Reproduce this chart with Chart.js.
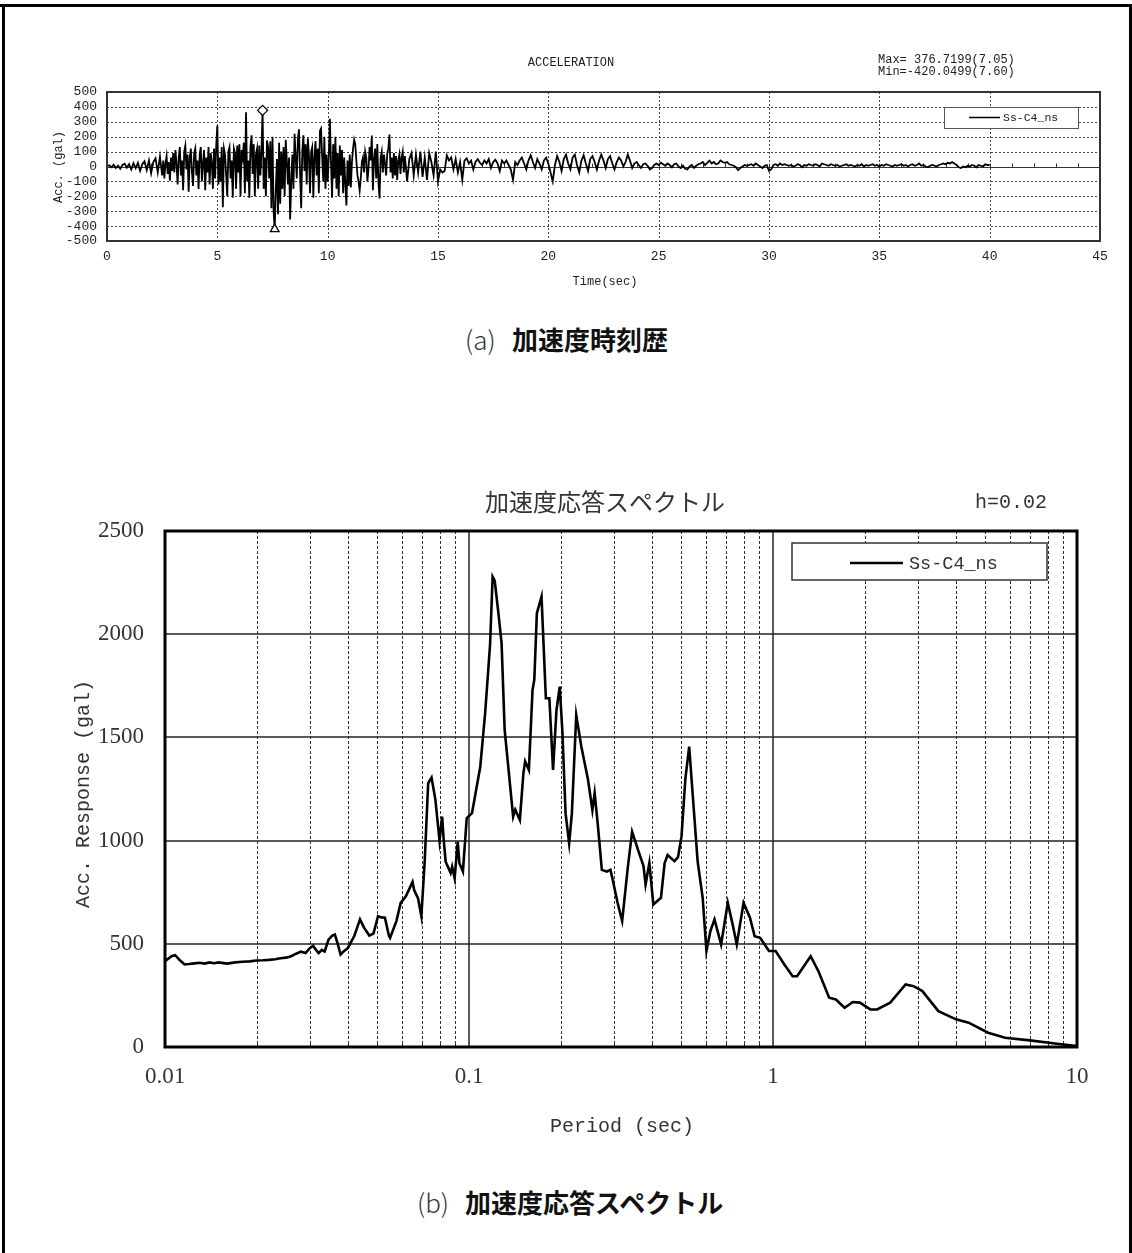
<!DOCTYPE html>
<html>
<head>
<meta charset="utf-8">
<script src="https://cdn.jsdelivr.net/npm/chart.js@4/dist/chart.umd.min.js"></script>
<style>
html,body{margin:0;padding:0;background:#fff;}
#wrap{position:relative;width:1132px;height:1253px;overflow:hidden;background:#fff;}
canvas{position:absolute;left:0;}
#c1{top:0;}
#c2{top:440px;}
.frame{position:absolute;background:#000;}
.cap{position:absolute;font-family:"Noto Sans CJK JP",sans-serif;font-size:26px;line-height:26px;color:#111;white-space:nowrap;}
.cap .p{font-weight:300;color:#333;}
.cap .t{font-weight:700;}
</style>
</head>
<body>
<div id="wrap">
  <div class="frame" style="left:0;top:4px;width:1132px;height:3px;"></div>
  <div class="frame" style="left:2px;top:4px;width:3px;height:1249px;"></div>
  <div class="frame" style="left:1129px;top:4px;width:3px;height:1249px;"></div>
  <canvas id="c1" width="1132" height="300"></canvas>
  <canvas id="c2" width="1132" height="720"></canvas>
  <div class="cap" style="left:465px;top:326px;"><span class="p">(a)</span></div>
  <div class="cap" style="left:512px;top:326px;"><span class="t">加速度時刻歴</span></div>
  <div class="cap" style="left:417px;top:1189px;"><span class="p">(b)</span></div>
  <div class="cap" style="left:465px;top:1189px;"><span class="t">加速度応答スペクトル</span></div>
</div>
<script>
// ---------- Time history (acceleration, gal) ----------
const seriesName = 'Ss-C4_ns';
const accTitle = 'ACCELERATION';
const accXTitle = 'Time(sec)';
const accYTitle = 'Acc. (gal)';
const accXTicks = [0, 5, 10, 15, 20, 25, 30, 35, 40, 45];
const accYTicks = [-500, -400, -300, -200, -100, 0, 100, 200, 300, 400, 500];
const accPeakTimes = [7.05, 7.60];
const accPeakValues = [376.7199, -420.0499];

// segment starts / steps (sec)
const accSegStarts = [0, 2.5, 13.5];
const accSegSteps = [0.1, 0.05, 0.1];

// 0.0 - 2.4 s
const accSegA = [0, 8, -5, 12, -10, 6, -15, 10, 18, -8, 15, -20, 22, -12, 25, -30, 15, 35, -25, 40, -45, 30, 55, -40, 65];
// 2.5 - 13.45 s
const accSegB = [
  -60, 40, -80, 20, 70, -50, 30, -95, 60, -30,
  90, -40, 110, 20, -120, 60, 130, -60, 40, -160, 100, 140, -20, 80, -170, 60, 120, -40, -130, 90,
  120, -60, 40, -150, 80, 130, -100, 20, 110, -160, 60, -40, 130, -120, 90, 30, -150, 120, -80, 140,
  275, -120, 60, -100, 130, -273, 120, 80, -60, -200, 100, 130, -80, 40, -210, 120, 90, -150, 140, -40,
  150, -200, 110, 60, 160, -180, 364, -100, 40, -210, 130, 210, -50, 150, -200, 80, 120, -150, 140, -60,
  100, 376.7199, -150, 60, -200, 175, 130, -80, 170, -280, 200, -300, -420.0499, -150, 50, -320, 160, -250, 100, -150,
  130, -200, 180, 40, -120, 60, -355, -100, 80, -150, 220, 60, -80, 180, 250, -50, -280, 100, 210, -30,
  150, -120, 190, 80, -180, 100, 130, -210, 60, 170, -60, 120, -180, 240, 255, 60, -100, 200, -150, 80,
  -100, 60, 320, 30, -210, 150, -80, 200, -150, 90, -200, 140, -60, 110, -180, 60, -120, -262, 40, -130,
  80, -140, 30, 120, 180, 150, 40, -60, -100, -160, -80, 30, 60, -40, 100, 60, -100, -20, 130, 40,
  208, -160, 50, 120, -80, 150, -100, -215, 60, 100, -40, 80, 20, -60, 90, 120, 215, -40, 60, -80,
  90, -60, 70, -90, 40, 80, -50, 60, 100, -40
];
// 13.5 - 40.0 s
const accSegC = [
  70, -100, 50, 90, -60,
  80, -40, 100, -70, 60, -90, 90, 30, -60, 100,
  -100, -20, -40, -30, 75, 40, 60, -20, 50, -40,
  30, -90, 40, 55, 20, 40, -20, 30, 50, 25,
  10, 40, 20, 50, -10, 30, 45, 20, -30, 40,
  20, 40, 10, -20, -90, 30, 10, 40, 60, 20,
  -20, 40, 75, 30, -10, 50, 20, -20, 40, 60,
  20, -40, -100, 10, 70, 30, -30, 50, 80, 20,
  -20, 60, 80, 10, -40, 40, 75, 20, -30, 50,
  70, 30, -20, 40, 80, 40, -10, 50, 70, 20,
  -20, 30, 60, 40, 0, 30, 80, 40, -10, 20,
  30, 10, -10, 15, 20, 5, -20, -10, 10, 20,
  10, 25, 15, 5, 20, 10, -5, 15, 20, 0,
  -10, 5, -15, -20, 0, 10, -10, 5, 15, 20,
  30, 10, 25, 40, 20, 30, 15, 20, 40, 30,
  25, 30, 15, 10, 5, -5, -25, -10, 0, 10,
  5, 10, 15, 5, 20, 10, 0, -10, 5, 10,
  -30, -20, 10, 15, 5, 20, 10, 15, 10, 5,
  10, 0, 5, 15, 10, -5, 10, 5, 15, 10,
  5, 15, 10, 0, 20, 15, 10, 5, 15, 10,
  5, 10, 0, 5, 10, 15, 5, 10, 5, 0,
  10, 5, 15, 0, 10, 5, 10, 15, 5, 10,
  0, 10, 5, 15, 10, 5, 0, 10, 5, 10,
  15, 5, 10, 0, 10, 15, 5, 10, 20, 5,
  10, 0, -5, 5, 10, 5, 0, 10, 15, 20,
  15, 25, 20, 30, 20, 10, -5, -10, 0, -5,
  5, 0, 10, 5, -5, 10, 5, 0, 15, 10,
  10
];

// ---------- Response spectrum ----------
const specTitle = '加速度応答スペクトル';
const specDamping = 'h=0.02';
const specXTitle = 'Period (sec)';
const specYTitle = 'Acc. Response (gal)';
const specXTicks = [0.01, 0.1, 1, 10];
const specXTickLabels = ['0.01', '0.1', '1', '10'];
const specYTicks = [0, 500, 1000, 1500, 2000, 2500];
const specPeriod = [
  0.010, 0.0105, 0.0108, 0.0112, 0.0116, 0.012, 0.0125, 0.013, 0.0135, 0.014, 0.0145, 0.015, 0.016, 0.017, 0.018, 0.019,
  0.020, 0.021, 0.022, 0.023, 0.024, 0.025, 0.026, 0.027, 0.028, 0.029, 0.030, 0.0307, 0.0315, 0.032, 0.0328, 0.0335,
  0.0345, 0.0355, 0.0362, 0.037, 0.0378, 0.0385, 0.040, 0.042, 0.0438, 0.0452, 0.047, 0.0485, 0.0502, 0.0515, 0.0529,
  0.0545, 0.055, 0.0577, 0.0596, 0.062, 0.0652, 0.066, 0.068, 0.0697, 0.0715, 0.0734, 0.0753, 0.0775, 0.080, 0.0816,
  0.0825, 0.0838, 0.087, 0.088, 0.0897, 0.0918, 0.093, 0.0955, 0.0983, 0.1023, 0.1089, 0.113, 0.1173, 0.1196, 0.1215,
  0.125, 0.128, 0.131, 0.1397, 0.142, 0.147, 0.151, 0.153, 0.1574, 0.1618, 0.164, 0.1672, 0.1732, 0.179, 0.1838, 0.189,
  0.194, 0.1988, 0.203, 0.2078, 0.2135, 0.218, 0.2253, 0.2342, 0.246, 0.2546, 0.259, 0.265, 0.2735, 0.284, 0.292, 0.297,
  0.308, 0.319, 0.333, 0.344, 0.36, 0.375, 0.381, 0.392, 0.404, 0.418, 0.428, 0.44, 0.45, 0.474, 0.487, 0.50, 0.515,
  0.53, 0.55, 0.565, 0.587, 0.604, 0.622, 0.642, 0.675, 0.71, 0.735, 0.76, 0.80, 0.84, 0.87, 0.907, 0.93, 0.97, 1.02,
  1.09, 1.16, 1.2, 1.33, 1.41, 1.53, 1.61, 1.72, 1.83, 1.93, 2.09, 2.2, 2.43, 2.73, 2.9, 3.1, 3.5, 4.0, 4.4, 5.1, 5.8,
  7.0, 8.6, 10
];
const specAcc = [
  416, 440, 445, 420, 400, 402, 405, 408, 404, 410, 406, 410, 404, 410, 413, 415,
  419, 420, 422, 425, 430, 433, 440, 452, 462, 455, 480, 490, 468, 455, 470, 462,
  520, 540, 545, 500, 448, 460, 480, 540, 618, 577, 540, 550, 634, 628, 626,
  540, 529, 610, 698, 730, 800, 760, 720, 634, 900, 1278, 1305, 1200, 1000, 1116,
  1010, 898, 843, 874, 818, 995, 890, 850, 1109, 1133, 1358, 1617, 1950, 2279, 2260,
  2100, 1956, 1536, 1116, 1150, 1100, 1327, 1384, 1342, 1730, 1780, 2102, 2182, 1690, 1690, 1342,
  1633, 1746, 1520, 1133, 987, 1133, 1608, 1455, 1300, 1148, 1230, 1085, 858, 850, 858, 810,
  700, 610, 870, 1043, 954, 877, 787, 892, 690, 710, 723, 890, 930, 900, 920, 1019, 1300,
  1455, 1133, 900, 723, 465, 560, 618, 497, 698, 600, 497, 698, 626, 537, 529, 505, 465, 465,
  400, 343, 343, 440, 368, 239, 230, 190, 218, 215, 182, 182, 215, 303, 295, 271, 174, 134, 118, 69, 45,
  32, 16, 5
];

// ---------- build datasets from the arrays ----------
const accPoints = [];
[accSegA, accSegB, accSegC].forEach((seg, k) => {
  seg.forEach((v, i) => {
    accPoints.push({ x: Math.round((accSegStarts[k] + i * accSegSteps[k]) * 1000) / 1000, y: v });
  });
});
const accPeaks = accPeakTimes.map((t, i) => ({ x: t, y: accPeakValues[i] }));
const specPoints = specPeriod.map((p, i) => ({ x: p, y: specAcc[i] }));

function hLine(ctx, x1, x2, y) { ctx.beginPath(); ctx.moveTo(x1, y); ctx.lineTo(x2, y); ctx.stroke(); }
function vLine(ctx, x, y1, y2) { ctx.beginPath(); ctx.moveTo(x, y1); ctx.lineTo(x, y2); ctx.stroke(); }

// ---------- top chart decorations ----------
const accDeco = {
  id: 'accDeco',
  beforeDatasetsDraw(chart) {
    const { ctx, chartArea: a, scales: { x, y } } = chart;
    ctx.save();
    ctx.strokeStyle = '#444';
    ctx.lineWidth = 1;
    ctx.setLineDash([2, 2]);
    accXTicks.forEach(v => {
      if (v > accXTicks[0] && v < accXTicks[accXTicks.length - 1]) {
        const px = Math.round(x.getPixelForValue(v)) + 0.5;
        vLine(ctx, px, a.top, a.bottom);
      }
    });
    accYTicks.forEach(v => {
      if (v !== 0 && v > accYTicks[0] && v < accYTicks[accYTicks.length - 1]) {
        const py = Math.round(y.getPixelForValue(v)) + 0.5;
        hLine(ctx, a.left, a.right, py);
      }
    });
    ctx.setLineDash([]);
    ctx.strokeStyle = '#333';
    const zy = Math.round(y.getPixelForValue(0)) + 0.5;
    hLine(ctx, a.left, a.right, zy);
    for (let s = 1; s < 45; s++) {
      const px = Math.round(x.getPixelForValue(s)) + 0.5;
      vLine(ctx, px, zy - 4, zy);
    }
    ctx.restore();
  },
  afterDraw(chart) {
    const { ctx, chartArea: a } = chart;
    ctx.save();
    ctx.strokeStyle = '#333';
    ctx.lineWidth = 2;
    ctx.strokeRect(a.left, a.top, a.right - a.left, a.bottom - a.top);
    ctx.fillStyle = '#222';
    ctx.textBaseline = 'middle';
    ctx.font = '12px "Liberation Mono"';
    ctx.textAlign = 'center';
    ctx.fillText(accTitle, 571, 63);
    ctx.fillText(accXTitle, 605, 282);
    ctx.textAlign = 'left';
    ctx.fillText('Max= ' + accPeakValues[0].toFixed(4) + '(' + accPeakTimes[0].toFixed(2) + ')', 878, 60);
    ctx.fillText('Min=' + accPeakValues[1].toFixed(4) + '(' + accPeakTimes[1].toFixed(2) + ')', 878, 72);
    // legend
    ctx.fillStyle = '#fff';
    ctx.fillRect(944, 107, 134, 21);
    ctx.strokeStyle = '#555';
    ctx.lineWidth = 1;
    ctx.strokeRect(944.5, 107.5, 134, 21);
    ctx.strokeStyle = '#000';
    ctx.lineWidth = 1.5;
    hLine(ctx, 969, 1000, 117.5);
    ctx.fillStyle = '#222';
    ctx.font = '11.5px "Liberation Mono"';
    ctx.fillText(seriesName, 1003, 118);
    // y title
    ctx.font = '12px "Liberation Mono"';
    ctx.translate(59, 167);
    ctx.rotate(-Math.PI / 2);
    ctx.textAlign = 'center';
    ctx.fillText(accYTitle, 0, 0);
    ctx.restore();
  }
};

new Chart(document.getElementById('c1'), {
  type: 'line',
  data: {
    datasets: [
      { label: seriesName, data: accPoints, borderColor: '#000', borderWidth: 1.8, pointRadius: 0, tension: 0, order: 2 },
      { label: 'peaks', data: accPeaks, showLine: false, pointStyle: ['rectRot', 'triangle'], pointRadius: 5,
        pointBackgroundColor: '#fff', pointBorderColor: '#000', pointBorderWidth: 1.3, order: 1 }
    ]
  },
  options: {
    responsive: false, animation: false, devicePixelRatio: 1,
    layout: { padding: { left: 47, right: 32, top: 92, bottom: 29 } },
    plugins: { legend: { display: false }, tooltip: { enabled: false } },
    scales: {
      x: {
        type: 'linear', min: 0, max: 45,
        afterBuildTicks: s => { s.ticks = accXTicks.map(v => ({ value: v })); },
        afterFit: s => { s.height = 30; s.paddingLeft = 0; s.paddingRight = 0; },
        grid: { display: false, drawTicks: false }, border: { display: false },
        ticks: { font: { family: 'Liberation Mono', size: 13 }, color: '#222', padding: 8, maxRotation: 0, autoSkip: false,
                 callback: v => String(v) }
      },
      y: {
        type: 'linear', min: -500, max: 500,
        afterBuildTicks: s => { s.ticks = accYTicks.map(v => ({ value: v })); },
        afterFit: s => { s.width = 60; s.paddingTop = 0; s.paddingBottom = 0; },
        grid: { display: false, drawTicks: false }, border: { display: false },
        ticks: { font: { family: 'Liberation Mono', size: 13 }, color: '#222', padding: 10, autoSkip: false,
                 callback: v => String(v) }
      }
    }
  },
  plugins: [accDeco]
});

// ---------- bottom chart decorations ----------
const specDeco = {
  id: 'specDeco',
  beforeDatasetsDraw(chart) {
    const { ctx, chartArea: a, scales: { x, y } } = chart;
    ctx.save();
    ctx.strokeStyle = '#333';
    ctx.lineWidth = 1;
    for (let d = 0; d < specXTicks.length - 1; d++) {
      for (let k = 2; k <= 9; k++) {
        const px = Math.round(x.getPixelForValue(specXTicks[d] * k)) + 0.5;
        ctx.setLineDash([3, 2]);
        vLine(ctx, px, a.top, a.bottom);
        ctx.setLineDash([]);
        vLine(ctx, px, a.bottom - 6, a.bottom);
      }
    }
    ctx.setLineDash([]);
    ctx.strokeStyle = '#222';
    ctx.lineWidth = 1.5;
    specXTicks.forEach((v, i) => {
      if (i > 0 && i < specXTicks.length - 1) vLine(ctx, Math.round(x.getPixelForValue(v)), a.top, a.bottom);
    });
    specYTicks.forEach((v, i) => {
      if (i > 0 && i < specYTicks.length - 1) hLine(ctx, a.left, a.right, Math.round(y.getPixelForValue(v)));
    });
    ctx.restore();
  },
  afterDraw(chart) {
    const { ctx, chartArea: a } = chart;
    ctx.save();
    ctx.strokeStyle = '#000';
    ctx.lineWidth = 3;
    ctx.strokeRect(a.left, a.top, a.right - a.left, a.bottom - a.top);
    ctx.fillStyle = '#333';
    ctx.textBaseline = 'middle';
    ctx.textAlign = 'center';
    ctx.font = '24px "Noto Sans CJK JP"';
    ctx.fillText(specTitle, 605, 62);
    ctx.font = '20px "Liberation Mono"';
    ctx.fillText(specXTitle, 622, 687);
    ctx.textAlign = 'left';
    ctx.fillText(specDamping, 975, 63);
    // legend
    ctx.fillStyle = '#fff';
    ctx.fillRect(792, 103, 255, 37);
    ctx.strokeStyle = '#333';
    ctx.lineWidth = 1.5;
    ctx.strokeRect(792, 103, 255, 37);
    ctx.strokeStyle = '#000';
    ctx.lineWidth = 2.5;
    hLine(ctx, 850, 903, 123);
    ctx.fillStyle = '#333';
    ctx.font = '18.5px "Liberation Mono"';
    ctx.fillText(seriesName, 909, 124);
    // y title
    ctx.font = '20px "Liberation Mono"';
    ctx.translate(84, 354);
    ctx.rotate(-Math.PI / 2);
    ctx.textAlign = 'center';
    ctx.fillText(specYTitle, 0, 0);
    ctx.restore();
  }
};

new Chart(document.getElementById('c2'), {
  type: 'line',
  data: {
    datasets: [
      { label: seriesName, data: specPoints, borderColor: '#000', borderWidth: 2.6, pointRadius: 0, tension: 0 }
    ]
  },
  options: {
    responsive: false, animation: false, devicePixelRatio: 1,
    layout: { padding: { left: 85, right: 55, top: 91, bottom: 63 } },
    plugins: { legend: { display: false }, tooltip: { enabled: false } },
    scales: {
      x: {
        type: 'logarithmic', min: 0.01, max: 10,
        afterBuildTicks: s => { s.ticks = specXTicks.map(v => ({ value: v })); },
        afterFit: s => { s.height = 50; s.paddingLeft = 0; s.paddingRight = 0; },
        grid: { display: false, drawTicks: false }, border: { display: false },
        ticks: { font: { family: 'Liberation Serif', size: 23 }, color: '#333', padding: 16, maxRotation: 0, autoSkip: false,
                 callback: (v, i) => specXTickLabels[i] }
      },
      y: {
        type: 'linear', min: 0, max: 2500,
        afterBuildTicks: s => { s.ticks = specYTicks.map(v => ({ value: v })); },
        afterFit: s => { s.width = 80; s.paddingTop = 0; s.paddingBottom = 0; },
        grid: { display: false, drawTicks: false }, border: { display: false },
        ticks: { font: { family: 'Liberation Serif', size: 23 }, color: '#333', padding: 21, autoSkip: false,
                 callback: v => String(v) }
      }
    }
  },
  plugins: [specDeco]
});
</script>
</body>
</html>
